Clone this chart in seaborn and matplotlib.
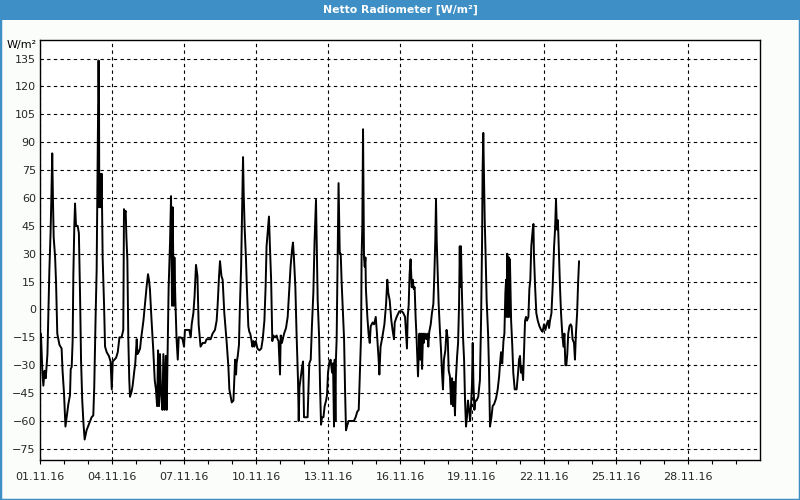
import numpy as np
import pandas as pd
import matplotlib
matplotlib.use("Agg")
import matplotlib.pyplot as plt
import matplotlib.dates as mdates
from matplotlib.patches import Rectangle
import seaborn as sns

# ---- data: days since 01.11.2016 00:00 and net radiation (W/m²) ----
days = [
    0.04, 0.10, 0.14, 0.19, 0.24, 0.31, 0.35, 0.39, 0.44, 0.47, 0.51, 0.54, 0.57, 0.63, 0.67, 0.72,
    0.81, 0.90, 0.94, 1.00, 1.06, 1.11, 1.18, 1.25, 1.28, 1.32, 1.36, 1.39, 1.43, 1.46, 1.50, 1.57,
    1.62, 1.67, 1.71, 1.76, 1.81, 1.86, 1.94, 2.06, 2.15, 2.22, 2.26, 2.32, 2.36, 2.40, 2.44, 2.46,
    2.47, 2.51, 2.54, 2.57, 2.61, 2.67, 2.71, 2.78, 2.87, 2.94, 2.99, 3.03, 3.10, 3.17, 3.24, 3.31,
    3.40, 3.47, 3.50, 3.54, 3.57, 3.60, 3.64, 3.68, 3.72, 3.75, 3.82, 3.86, 3.93, 3.97, 4.03, 4.06,
    4.11, 4.17, 4.21, 4.31, 4.39, 4.44, 4.50, 4.54, 4.58, 4.64, 4.72, 4.78, 4.83, 4.88, 4.92, 4.96,
    5.00, 5.04, 5.10, 5.14, 5.19, 5.24, 5.28, 5.32, 5.36, 5.42, 5.46, 5.50, 5.53, 5.57, 5.60, 5.64,
    5.69, 5.74, 5.78, 5.86, 5.94, 6.00, 6.04, 6.11, 6.22, 6.28, 6.32, 6.39, 6.44, 6.50, 6.56, 6.61,
    6.69, 6.78, 6.88, 6.94, 7.03, 7.11, 7.19, 7.29, 7.36, 7.40, 7.46, 7.50, 7.56, 7.61, 7.68, 7.78,
    7.85, 7.89,
    7.99, 8.06, 8.13, 8.17, 8.19, 8.24, 8.29, 8.33, 8.38, 8.42, 8.46, 8.49, 8.53, 8.58, 8.62, 8.68,
    8.72, 8.76, 8.79, 8.85, 8.89, 8.93, 8.99, 9.06, 9.14, 9.22, 9.28, 9.35, 9.40, 9.44, 9.49, 9.54,
    9.58, 9.63, 9.68, 9.72, 9.79, 9.86, 9.90, 9.94, 10.00, 10.03, 10.08, 10.17, 10.25, 10.32, 10.38,
    10.44, 10.50, 10.54, 10.58, 10.64, 10.69, 10.75, 10.78, 10.81, 10.86, 10.92, 10.96, 11.00, 11.08,
    11.15, 11.19, 11.22, 11.28, 11.33, 11.39, 11.44, 11.50, 11.53, 11.57, 11.63, 11.67, 11.71, 11.75,
    11.81, 11.86, 11.92, 11.96, 12.00, 12.06, 12.11, 12.17, 12.21, 12.25, 12.28, 12.31, 12.33, 12.36,
    12.40, 12.44, 12.49, 12.53, 12.57, 12.61, 12.67, 12.71, 12.75, 12.81, 12.86, 12.92, 12.99, 13.08,
    13.15, 13.22, 13.28, 13.33, 13.38, 13.40, 13.43, 13.46, 13.50, 13.53, 13.56, 13.58, 13.64, 13.69,
    13.74, 13.78, 13.86, 13.92, 13.99, 14.04, 14.11, 14.14, 14.19, 14.25, 14.31, 14.35, 14.42, 14.47,
    14.51, 14.57, 14.64, 14.69, 14.75, 14.78, 14.86, 14.97,
    15.08, 15.14, 15.21, 15.25, 15.29, 15.32, 15.36, 15.40, 15.44, 15.49, 15.53, 15.57, 15.61, 15.65,
    15.69, 15.75, 15.81, 15.85, 15.88, 15.92, 15.96, 15.99, 16.04, 16.10, 16.14, 16.18, 16.22, 16.28,
    16.33, 16.39, 16.43, 16.47, 16.50, 16.53, 16.57, 16.61, 16.67, 16.71, 16.75, 16.79, 16.83, 16.89,
    16.94, 16.99, 17.03, 17.08, 17.13, 17.17, 17.21, 17.25, 17.29, 17.33, 17.38, 17.42, 17.46, 17.49,
    17.51, 17.54, 17.58, 17.63, 17.67, 17.71, 17.75, 17.79, 17.83, 17.88, 17.92, 17.96, 18.00, 18.03,
    18.06, 18.10, 18.14, 18.19, 18.26, 18.33, 18.38, 18.42, 18.44, 18.47, 18.50, 18.53, 18.57, 18.61,
    18.67, 18.71, 18.75, 18.81, 18.86, 18.92, 19.00, 19.07, 19.13, 19.17, 19.21, 19.26, 19.31, 19.35,
    19.39, 19.42, 19.44, 19.47, 19.50, 19.53, 19.56, 19.58, 19.63, 19.68, 19.72, 19.78, 19.86, 19.92,
    19.96, 20.00, 20.04, 20.08, 20.13, 20.17, 20.21, 20.25, 20.29, 20.35, 20.39, 20.43, 20.47, 20.53,
    20.56, 20.58, 20.63, 20.68, 20.74, 20.81, 20.88, 20.94, 21.00, 21.06, 21.11, 21.17, 21.21, 21.25,
    21.31, 21.36, 21.42, 21.46, 21.50, 21.54, 21.58, 21.63, 21.67, 21.71, 21.76, 21.81, 21.85, 21.89,
    21.93, 21.97, 22.01, 22.06, 22.11, 22.15, 22.19, 22.25, 22.29, 22.33, 22.38, 22.42, 22.46,
]
values = [
    -13, -34, -41, -33, -37, -24, -2, 21, 41, 58, 84, 59, 39, 28, 14, -13,
    -19, -21, -33, -45, -63, -58, -51, -46, -32, -31, -17, 19, 45, 57, 45, 45,
    41, 7, -27, -49, -61, -70, -65, -61, -58, -57, -42, -2, 21, 77, 134, 109,
    55, 73, 55, 73, 28, 2, -20, -23, -25, -28, -43, -28, -27, -26, -23, -15,
    -15, -11, 54, 52, 53, 39, 27, -16, -38, -47, -44, -41, -33, -29, -16, -24,
    -23, -21, -16, -6, 5, 12, 19, 16, 11, -4, -22, -38, -43, -52, -22, -52,
    -24, -44, -54, -24, -54, -25, -54, -20, 12, 37, 61, 2, 55, 2, 28, 5,
    -16, -27, -15, -15, -16, -20, -11, -11, -11, -15, -8, -2, 7, 24, 18, -8,
    -20, -18, -18, -16, -16, -16, -13, -11, -6, 2, 18, 26, 18, 16, -2, -18,
    -31, -43,
    -50, -49, -27, -35, -29, -25, -19, 2, 23, 53, 82, 61, 43, 28, 12, -9,
    -12, -13, -15, -20, -17, -20, -17, -21, -22, -21, -16, -6, 12, 34, 42, 50,
    34, 16, -17, -14, -15, -14, -16, -17, -35, -14, -18, -13, -10, -4, 9,
    23, 32, 36, 28, 12, -13, -38, -60, -42, -37, -31, -28, -58, -58,
    -58, -42, -29, -27, -9, 9, 37, 59, 37, 5, -15, -42, -62, -58,
    -58, -52, -49, -46, -34, -28, -27, -34, -29, -63, -27, -60, -27, -16,
    28, 68, 30, 30, 14, 2, -16, -43, -65, -62, -60, -60, -60, -60,
    -58, -55, -54, -33, -13, 28, 45, 97, 28, 23, 28, 11, -4, -13,
    -18, -9, -7, -8, -4, -13, -27, -35, -20, -16, -11, -8, 3, 16,
    9, 5, -6, -11, -16, -7, -4, -1,
    -1, -2, -4, -13, -21, -4, 2, 19, 27, 12, 16, 11, 12, -4,
    -15, -36, -13, -27, -13, -32, -13, -18, -13, -16, -13, -20, -12, -8,
    -2, 3, 18, 37, 59, 37, 19, 3, -13, -22, -34, -43, -27, -22,
    -11, -16, -33, -36, -51, -37, -52, -39, -57, -37, -25, -18, 2, 34,
    12, 34, 9, -16, -27, -49, -63, -58, -49, -54, -60, -52, -40, -18,
    -40, -54, -49, -49, -47, -38, -4, 37, 73, 95, 73, 48, 28, 5,
    -13, -33, -63, -58, -52, -51, -48, -43, -36, -29, -23, -29, -17, -13,
    9, 16, -4, 30, -4, 28, -4, 27, -6, -20, -34, -43, -43, -34,
    -27, -25, -34, -31, -38, -22, -6, -4, -6, -4, 11, 16, 34, 43,
    46, 30, 12, -2, -6, -9, -11, -12, -8, -11, -8, -6, -10, -6,
    -2, 12, 34, 43, 59, 43, 48, 28, 11, -2, -13, -20, -13, -30,
    -30, -24, -13, -9, -8, -9, -16, -18, -27, -13, -2, 14, 26,
]

title = "Netto Radiometer [W/m²]"
unit_label = "W/m²"
y_ticks = list(range(-75, 136, 15))
start_date = "2016-11-01"
end_date = "2016-12-01"

# ---- build frame ----
t0 = pd.Timestamp(start_date)
df = pd.DataFrame({
    "time": t0 + pd.to_timedelta(np.array(days), unit="D"),
    "value": values,
})

sns.set_theme(style="white")
plt.rcParams["font.family"] = ["DejaVu Sans"]

BLUE = "#3d8fc6"
fig = plt.figure(figsize=(8, 5), dpi=100, facecolor="#fbfdfb")
ax = fig.add_axes([40 / 800, 40 / 500, 720 / 800, 420 / 500])
ax.set_facecolor("white")

sns.lineplot(data=df, x="time", y="value", sort=False, estimator=None,
             color="black", linewidth=1.4, ax=ax)

ax.set_xlim(pd.Timestamp(start_date), pd.Timestamp(end_date))
ax.set_ylim(-81, 145)

major = pd.date_range(start_date, "2016-11-28", freq="3D")
minor = pd.date_range(start_date, "2016-11-30", freq="D")
ax.set_xticks(mdates.date2num(major))
ax.set_xticks(mdates.date2num(minor), minor=True)
ax.xaxis.set_major_formatter(mdates.DateFormatter("%d.%m.%y"))
ax.set_yticks(y_ticks)

ax.grid(True, which="major", color="black", linestyle=(0, (3, 3)), linewidth=0.8)
ax.tick_params(axis="x", which="both", direction="out", length=3, width=0.8,
               color="black", labelsize=8, pad=6, bottom=True)
ax.tick_params(axis="y", which="both", length=0, labelsize=8, pad=3, left=False)
for s in ax.spines.values():
    s.set_visible(True)
    s.set_color("black")
    s.set_linewidth(1.0)

ax.set_xlabel("")
ax.set_ylabel("")

# unit label above y axis
fig.text(37 / 800, 1 - 45 / 500, unit_label, ha="right", va="center", fontsize=8, color="black")

# title bar and frame
fig.add_artist(Rectangle((0, 1 - 20 / 500), 1, 20 / 500, transform=fig.transFigure,
                         facecolor=BLUE, edgecolor="none", zorder=0))
fig.text(0.5, 1 - 10 / 500, title, ha="center", va="center", fontsize=7.8,
         color="white", fontweight="bold")
fig.add_artist(Rectangle((0, 0), 1, 1, transform=fig.transFigure, fill=False,
                         edgecolor=BLUE, linewidth=2.5, zorder=0))

fig.savefig("out.png", dpi=100, facecolor=fig.get_facecolor())
